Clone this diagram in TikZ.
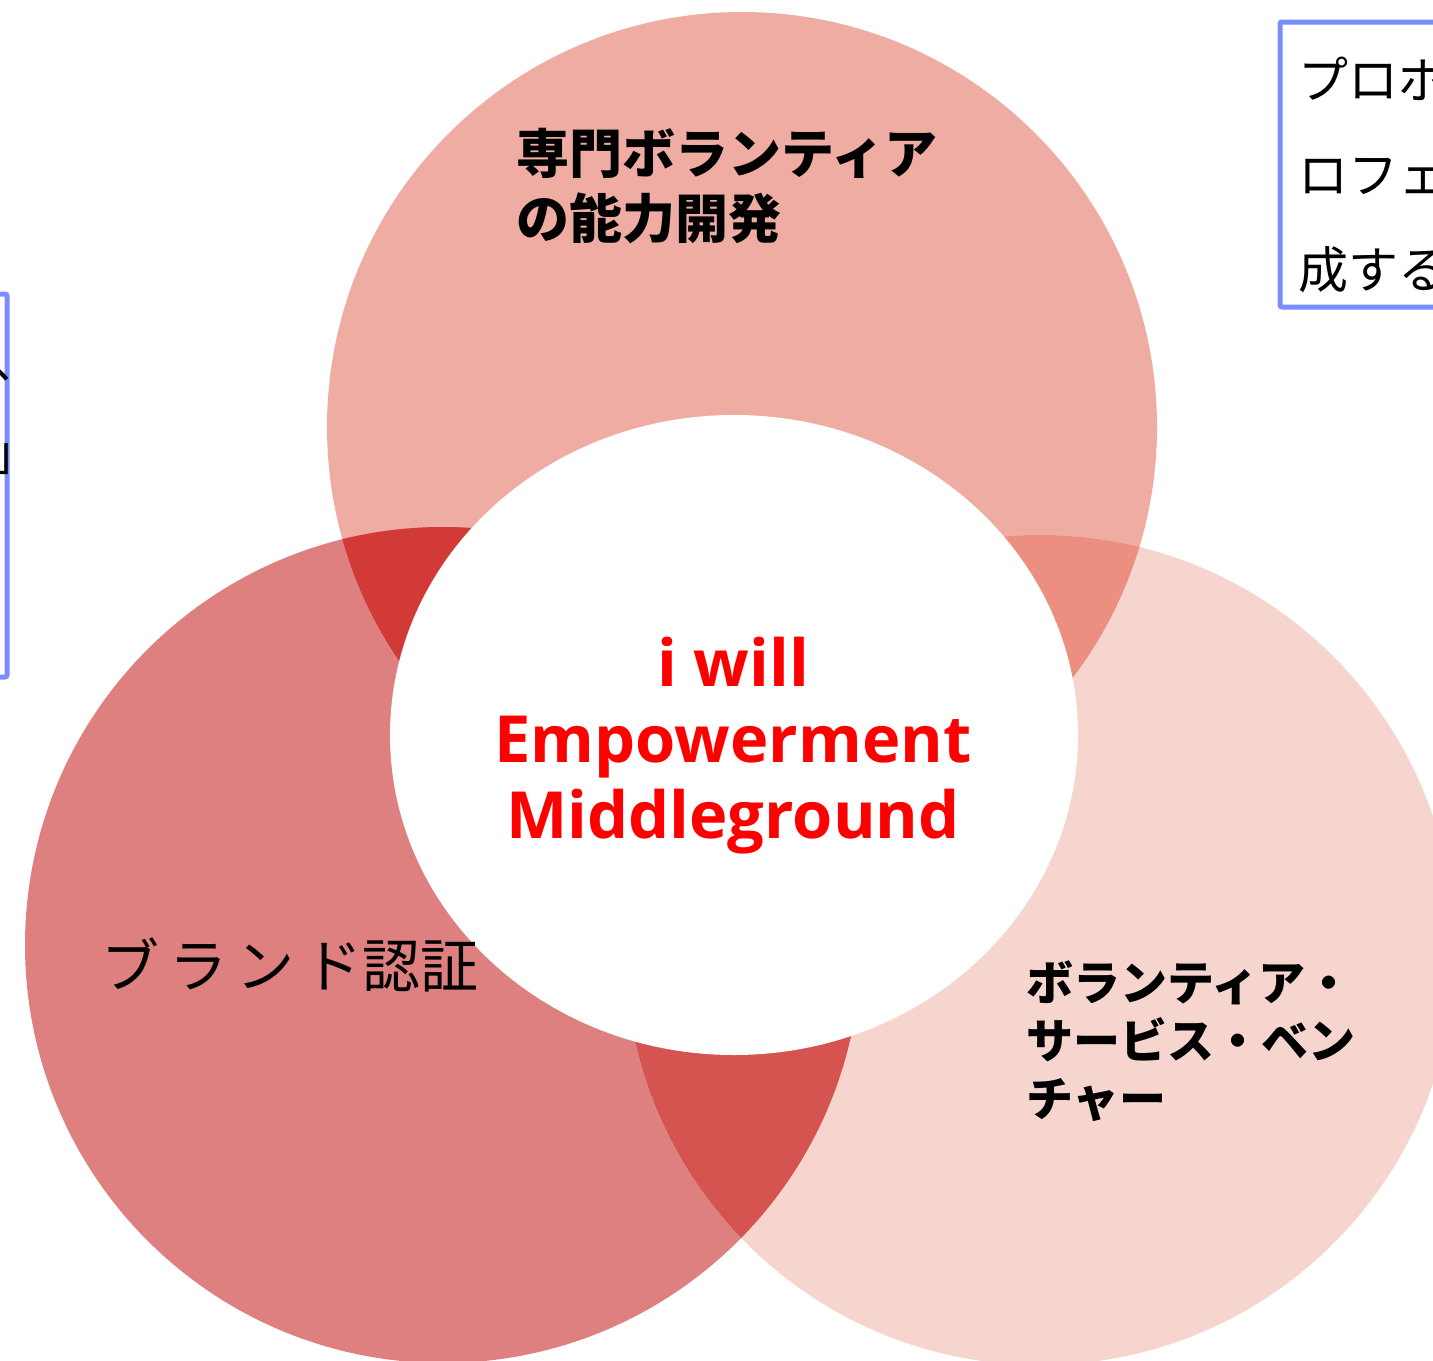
\documentclass[tikz,border=0pt]{standalone}
\usepackage{fontspec}
\setmainfont{Open Sans}
\newfontfamily\jp{Noto Sans CJK JP}
\definecolor{TopSalmon}{HTML}{EFACA3}
\definecolor{LeftRose}{HTML}{DE8080}
\definecolor{RightBlush}{HTML}{F6D5CE}
\definecolor{TopLeftRed}{HTML}{D13A37}
\definecolor{TopRightRed}{HTML}{EC8F80}
\definecolor{LowRed}{HTML}{D5544F}
\definecolor{BoxBlue}{HTML}{7A8CFF}
\tikzset{
  jpbold/.style 2 args={font=\jp\bfseries\fontsize{#1}{#2}\selectfont, align=left, inner sep=0pt},
  jpthin/.style 2 args={font=\jp\fontsize{#1}{#2}\selectfont, align=left, inner sep=0pt},
  infobox/.style={draw=BoxBlue, line width=2.5pt, rounded corners=1pt},
  centretext/.style={font=\bfseries\fontsize{32.5}{38}\selectfont, text=red, align=center, inner sep=0pt}
}

\begin{document}
\begin{tikzpicture}[x=0.5pt,y=-0.5pt]
  \useasboundingbox (0,0) rectangle (1433,1360);
  \clip (0,0) rectangle (1433,1360);
  \coordinate (T) at (742,427);
  \coordinate (L) at (443,945);
  \coordinate (R) at (1040,950);
  \coordinate (M) at (734,735);
  \fill[TopSalmon] (T) circle[radius=415];
  \fill[LeftRose] (L) circle[radius=418];
  \fill[RightBlush] (R) circle[radius=415];
  \begin{scope}
    \clip (T) circle[radius=415];
    \fill[TopLeftRed] (L) circle[radius=418];
    \fill[TopRightRed] (R) circle[radius=415];
  \end{scope}
  \begin{scope}
    \clip (L) circle[radius=418];
    \fill[LowRed] (R) circle[radius=415];
  \end{scope}
  \fill[white] (M) ellipse[x radius=344, y radius=320];

  \node[centretext] (core) at (733,746) {i will\\Empowerment\\Middleground};
  \node[jpbold={26.5}{32.5}, anchor=north west] (skill) at (516,128) {専門ボランティア\\の能力開発};
  \node[font=\jp\fontsize{29}{29}\selectfont, inner sep=0pt] (brand) at (290,965) {ブ\,ラ\,ン\,ド認証};
  \node[jpbold={23.5}{29}, anchor=north west] (venture) at (1026,960) {ボランティア・\\サービス・ベン\\チャー};

  \draw[infobox] (1280,22) rectangle (1480,307);
  \node[jpthin={25}{47.5}, anchor=north west] (probono) at (1298,57) {プロボ\\ロフェ\\成する};
  \draw[infobox] (-100,294) rectangle (7,677);
  \node[font=\jp\fontsize{24}{24}\selectfont, inner sep=0pt, anchor=base west] (comma) at (-8,378) {、};
  \node[font=\jp\fontsize{24}{24}\selectfont, inner sep=0pt, anchor=base west] (bracket) at (-9,470) {」};
\end{tikzpicture}
\end{document}
